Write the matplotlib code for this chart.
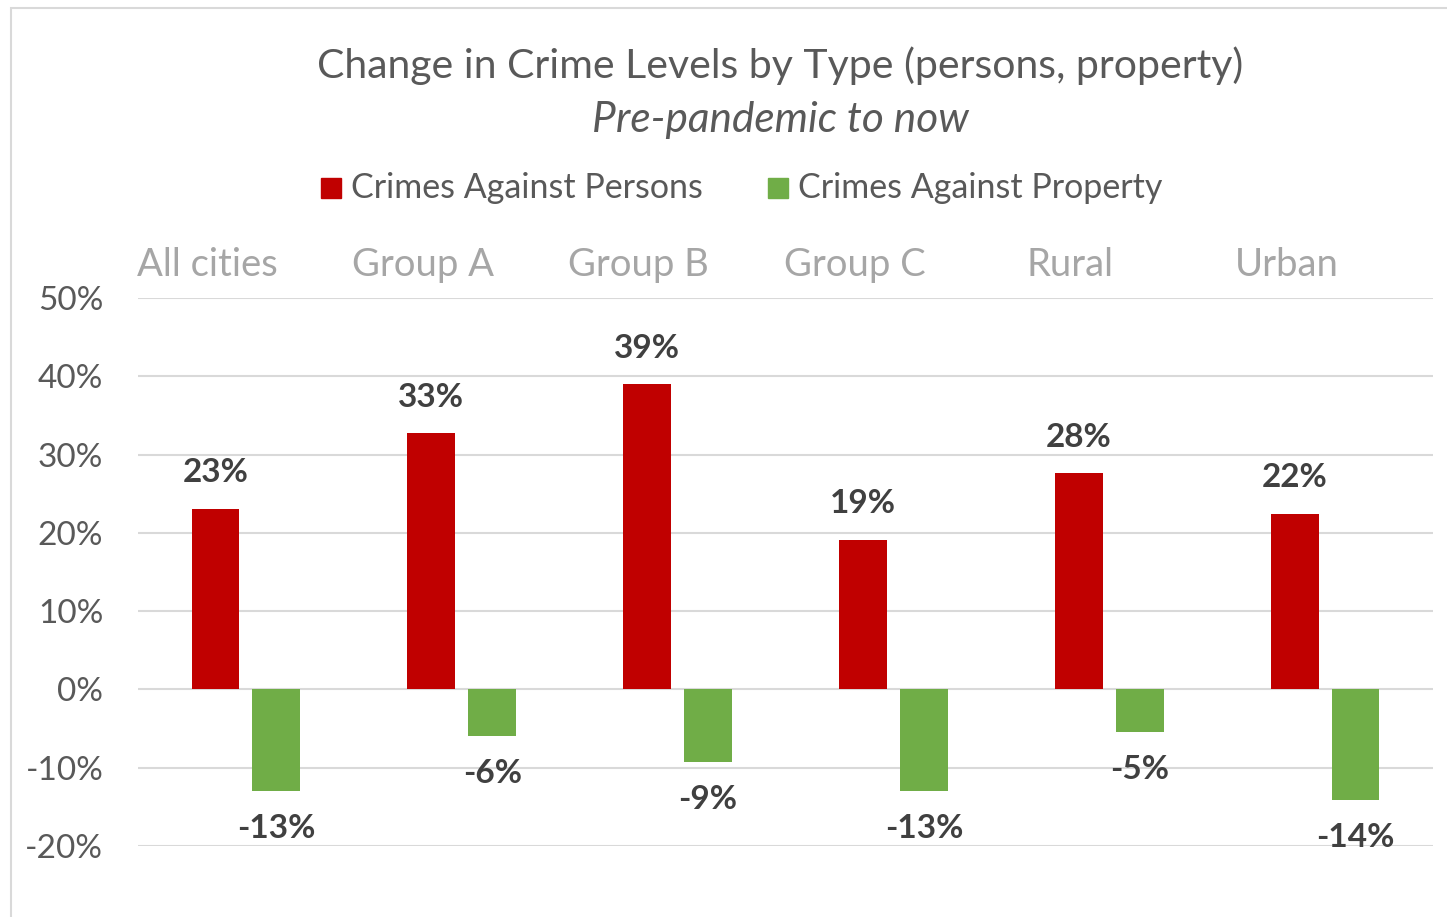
import matplotlib
matplotlib.use('Agg')
import matplotlib.pyplot as plt
import numpy as np
from matplotlib.patches import Rectangle

categories = ["All cities", "Group A", "Group B", "Group C", "Rural", "Urban"]
persons = [23.1, 32.7, 39.0, 19.1, 27.6, 22.4]
prop = [-13.0, -6.0, -9.3, -13.0, -5.4, -14.1]
yticks = [-20, -10, 0, 10, 20, 30, 40, 50]

RED = '#C00000'
GREEN = '#70AD47'
W, H = 1447, 917

plt.rcParams['font.family'] = ['Lato', 'DejaVu Sans']

fig = plt.figure(figsize=(W / 100, H / 100), dpi=100)

# chart border (cropped on right and bottom)
fig.patches.append(Rectangle((11 / W, -0.1), 1.2, 1.1 - 8 / H,
                             transform=fig.transFigure, fill=False,
                             edgecolor='#D9D9D9', lw=1.5))

ax = fig.add_axes([138 / W, (H - 846) / H, (1433 - 138) / W, 548 / H])
x = np.arange(len(categories))
bw = 0.222
off = 0.141
ax.bar(x - off, persons, bw, color=RED, zorder=3)
ax.bar(x + off, prop, bw, color=GREEN, zorder=3)

ax.set_xlim(-0.5, len(categories) - 0.5)
ax.set_ylim(-20, 50)
ax.set_yticks(yticks)
ax.set_yticklabels([f"{t}%" for t in yticks], fontsize=24, color='#595959')
ax.tick_params(axis='y', length=0, pad=25)
ax.set_xticks([])
for s in ax.spines.values():
    s.set_visible(False)
ax.grid(axis='y', color='#D9D9D9', lw=1.5, zorder=0)

for i, v in enumerate(persons):
    ax.annotate(f"{round(v)}%", (x[i] - off, v), xytext=(0, 26), textcoords='offset points',
                ha='center', va='center', fontsize=24, fontweight='bold', color='#404040')
for i, v in enumerate(prop):
    ax.annotate(f"{round(v)}%", (x[i] + off, v), xytext=(0, -27), textcoords='offset points',
                ha='center', va='center', fontsize=24, fontweight='bold', color='#404040')

# category labels along the top
for i, c in enumerate(categories):
    ax.annotate(c, (x[i] - off, 50), xytext=(-6, 24), textcoords='offset points',
                ha='center', va='center', fontsize=27.5, color='#A6A6A6')

fig.text(780 / W, 1 - 66 / H, "Change in Crime Levels by Type (persons, property)",
         ha='center', va='center', fontsize=29.5, color='#595959')
fig.text(780 / W, 1 - 120 / H, "Pre-pandemic to now", ha='center', va='center',
         fontsize=30.5, style='italic', color='#595959')

# legend
fig.patches.append(Rectangle((321 / W, 1 - 198 / H), 20 / W, 20 / H,
                             transform=fig.transFigure, color=RED))
fig.text(351 / W, 1 - 188 / H, "Crimes Against Persons", ha='left', va='center',
         fontsize=24.5, color='#595959')
fig.patches.append(Rectangle((768 / W, 1 - 198 / H), 20 / W, 20 / H,
                             transform=fig.transFigure, color=GREEN))
fig.text(798 / W, 1 - 188 / H, "Crimes Against Property", ha='left', va='center',
         fontsize=24.5, color='#595959')

fig.savefig('out.png', dpi=100)
